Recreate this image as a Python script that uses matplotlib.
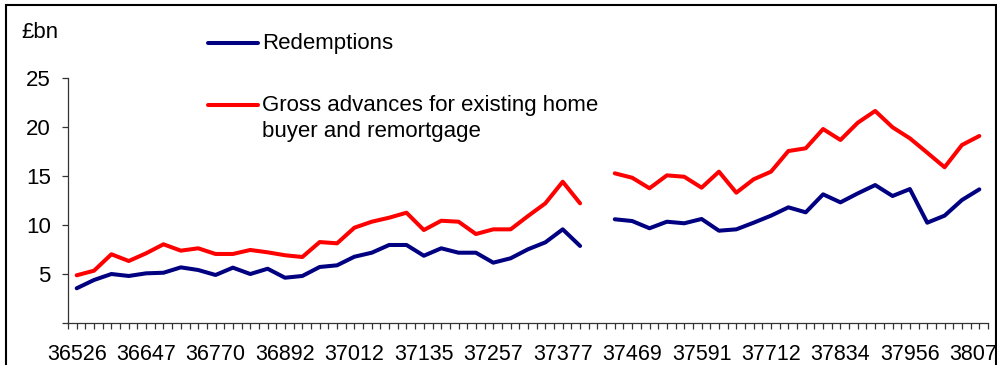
import numpy as np
import matplotlib
matplotlib.use('Agg')
import matplotlib.pyplot as plt
from matplotlib.lines import Line2D
from matplotlib.patches import Rectangle

plt.rcParams['font.family'] = ['Liberation Sans', 'DejaVu Sans']

# monthly data, Jan 2000 .. Apr 2004 with one blank category after Jun 2002
redemptions = [3.52, 4.37, 4.98, 4.78, 5.05, 5.11, 5.66, 5.39, 4.88, 5.63,
               4.98, 5.52, 4.60, 4.78, 5.70, 5.87, 6.75, 7.16, 7.95, 7.95,
               6.85, 7.61, 7.16, 7.16, 6.14, 6.59, 7.51, 8.22, 9.55, 7.85,
               np.nan,
               10.58, 10.40, 9.66, 10.33, 10.17, 10.61, 9.41, 9.55, 10.23, 10.95,
               11.80, 11.29, 13.13, 12.31, 13.23, 14.08, 12.96, 13.67, 10.23, 10.95,
               12.55, 13.64]
gross_adv = [4.85, 5.32, 7.00, 6.31, 7.10, 8.02, 7.37, 7.61, 7.03, 7.03,
             7.44, 7.20, 6.90, 6.72, 8.25, 8.12, 9.72, 10.33, 10.74, 11.25,
             9.48, 10.43, 10.33, 9.07, 9.55, 9.55, 10.91, 12.21, 14.42, 12.21,
             np.nan,
             15.28, 14.83, 13.75, 15.07, 14.93, 13.81, 15.45, 13.30, 14.67, 15.45,
             17.56, 17.84, 19.81, 18.69, 20.46, 21.66, 19.99, 18.86, 17.39, 15.90,
             18.18, 19.10]
xlabels = ['36526', '36647', '36770', '36892', '37012', '37135', '37257',
           '37377', '37469', '37591', '37712', '37834', '37956', '38078']
yticks = [0, 5, 10, 15, 20, 25]

W, H = 997, 365
fig = plt.figure(figsize=(W/100, H/100), dpi=100)
ax = fig.add_axes([68/W, 1-322.7/H, 920/W, 244.4/H])

x = np.arange(len(redemptions))
ax.plot(x, redemptions, color='#000080', lw=2.9, solid_joinstyle='round', solid_capstyle='round')
ax.plot(x, gross_adv, color='#ff0000', lw=2.9, solid_joinstyle='round', solid_capstyle='round')

ax.set_xlim(-0.5, len(x)-0.5)
ax.set_ylim(0, 25)
ax.set_yticks(yticks)
ax.set_yticklabels(['' if v == 0 else str(v) for v in yticks], fontsize=16)
# labelled ticks every 4 categories, plain tick marks every half category
ax.set_xticks(np.arange(0, len(x), 4))
ax.set_xticklabels(xlabels, fontsize=15.5)
ax.set_xticks(np.arange(-0.5, len(x), 0.5), minor=True)
ax.tick_params(axis='x', which='both', direction='out', length=4.3, width=0.9, color='#333333')
ax.tick_params(axis='x', which='major', pad=11)
ax.tick_params(axis='y', direction='out', length=4.5, width=0.9, color='#333333', pad=8)
for s in ['top', 'right']:
    ax.spines[s].set_visible(False)
for s in ['left', 'bottom']:
    ax.spines[s].set_color('#333333')
    ax.spines[s].set_linewidth(0.9)

fig.text(21/W, 1-33/H, '£bn', fontsize=16, va='center', ha='left')

# legend drawn by hand (Excel style, handle aligned with first text line)
fig.add_artist(Line2D([208/W, 258/W], [1-43/H, 1-43/H], color='#000080', lw=2.9, solid_capstyle='round'))
fig.text(262/W, 1-44/H, 'Redemptions', fontsize=16, va='center', ha='left')
fig.add_artist(Line2D([208/W, 258/W], [1-105/H, 1-105/H], color='#ff0000', lw=2.9, solid_capstyle='round'))
fig.text(262/W, 1-95/H, 'Gross advances for existing home\nbuyer and remortgage',
         fontsize=16, va='top', ha='left', linespacing=1.33)

# outer frame of the exhibit
fig.add_artist(Rectangle((5.5/W, -0.1), 990/W, 1.1-5/H, transform=fig.transFigure,
                         fill=False, edgecolor='black', lw=1.5))

fig.savefig('out.png', dpi=100)
